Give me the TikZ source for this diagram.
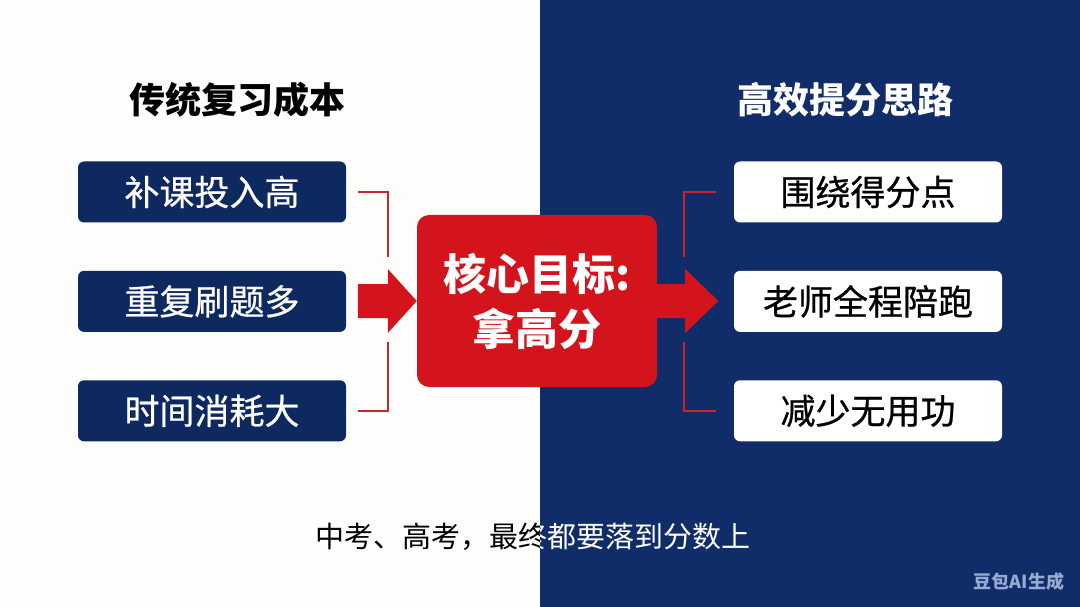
\documentclass[tikz,border=0pt]{standalone}
\usepackage{fontspec}
\setmainfont{Noto Sans CJK SC}
\newfontfamily\medfont[FakeBold=0.7]{Noto Sans CJK SC}
\usepackage{xcolor}
\usetikzlibrary{positioning,calc}
\definecolor{navy}{RGB}{17,45,105}
\definecolor{boxnavy}{RGB}{14,40,96}
\definecolor{goalred}{RGB}{212,20,28}
\definecolor{linered}{RGB}{205,35,45}
\definecolor{paper}{RGB}{253,253,251}
\definecolor{markgray}{RGB}{150,170,210}
\tikzset{
cost/.style={fill=boxnavy, rounded corners=6pt, minimum width=268pt, minimum height=61pt,
inner sep=0pt, text=white, font=\medfont\fontsize{35}{40}\selectfont},
idea/.style={cost, fill=white, text=black},
head/.style={font=\bfseries\fontsize{36}{42}\selectfont},
goal/.style={fill=goalred, rounded corners=12pt, minimum width=240pt, minimum height=172pt,
align=center, text=white, font=\bfseries\fontsize{43}{55}\selectfont},
bracket/.style={draw=linered, line width=2pt},
fat/.style={fill=goalred},
caption/.style={font=\fontsize{29}{34}\selectfont}
}

\begin{document}
\begin{tikzpicture}[x=1pt,y=-1pt]
% two halves
\fill[paper] (0,0) rectangle (540,607);
\fill[navy] (540,0) rectangle (1080,607);

\node[head] (lt) at (237,100) {传统复习成本};
\node[head, text=white] (rt) at (845,100) {高效提分思路};

\node[cost] (c1) at (212,192) {补课投入高};
\node[cost, below=48pt of c1] (c2) {重复刷题多};
\node[cost, below=48pt of c2] (c3) {时间消耗大};

\node[idea] (i1) at (868,192) {围绕得分点};
\node[idea, below=48pt of i1] (i2) {老师全程陪跑};
\node[idea, below=48pt of i2] (i3) {减少无用功};

\node[goal] (goal) at (537,301) {核心目标:\\拿高分};

% brackets
\draw[bracket] ([xshift=12pt]c1.east) -| ([xshift=42pt,yshift=44pt]c2.east);
\draw[bracket] ([xshift=12pt]c3.east) -| ([xshift=42pt,yshift=-41pt]c2.east);
\draw[bracket] ([xshift=-18pt]i1.west) -| ([xshift=-50pt,yshift=44pt]i2.west);
\draw[bracket] ([xshift=-18pt]i3.west) -| ([xshift=-50pt,yshift=-41pt]i2.west);

% fat arrows
\fill[fat] ($(goal.west)+(-59,-17)$) -- ++(30,0) -- ++(0,-15) -- (goal.west)
  -- ($(goal.west)+(-29,32)$) -- ++(0,-15) -- ++(-30,0) -- cycle;
\fill[fat] ($(goal.east)+(0,-17)$) -- ++(28,0) -- ++(0,-15) -- ($(goal.east)+(61,0)$)
  -- ($(goal.east)+(28,32)$) -- ++(0,-15) -- ++(-28,0) -- cycle;

% caption, black on paper, white on navy
\begin{scope}
\clip (0,0) rectangle (540,607);
\node[caption] (cap) at (533,537) {中考、高考，最终都要落到分数上};
\end{scope}
\begin{scope}
\clip (540,0) rectangle (1080,607);
\node[caption, text=white] (capw) at (533,537) {中考、高考，最终都要落到分数上};
\end{scope}

\node[font=\bfseries\fontsize{18}{20}\selectfont, text=markgray] (mark) at (1019,582) {豆包AI生成};
\end{tikzpicture}
\end{document}
